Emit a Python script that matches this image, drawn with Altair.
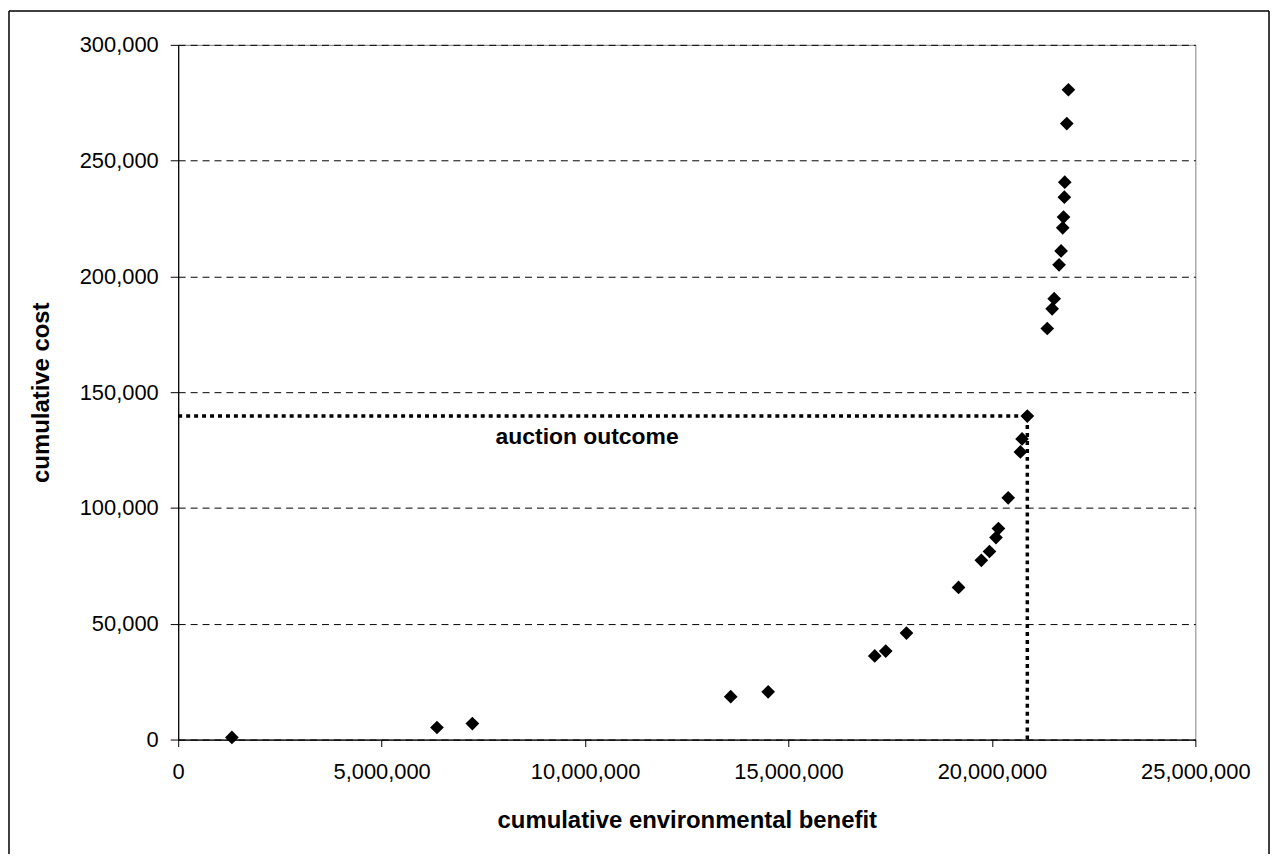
import altair as alt
import pandas as pd

# ---- data ----
benefit = [1320000, 6360000, 7230000, 13580000, 14500000, 17120000, 17390000,
           17900000, 19180000, 19740000, 19940000, 20100000, 20160000, 20400000,
           20700000, 20740000, 20870000, 21360000, 21480000, 21530000, 21650000,
           21700000, 21740000, 21760000, 21780000, 21790000, 21840000, 21880000]
cost = [900, 5200, 6900, 18500, 20600, 36100, 38200,
        46000, 65700, 77400, 81200, 87200, 91100, 104400,
        124200, 129800, 139700, 177500, 186000, 190400, 205000,
        211000, 221000, 225600, 234200, 240700, 266000, 280600]

x_ticks = [0, 5000000, 10000000, 15000000, 20000000, 25000000]
y_ticks = [0, 50000, 100000, 150000, 200000, 250000, 300000]

outcome_benefit = 20870000
outcome_cost = 139700
label_text = ["auction outcome"]
label_benefit = [10050000]
label_cost = [130600]

x_title = "cumulative environmental benefit"
y_title = "cumulative cost"

FONT = "Liberation Sans"
W, H = 1022, 698

xscale = alt.Scale(domain=[0, 25000000], nice=False)
yscale = alt.Scale(domain=[0, 300000], nice=False)

df = pd.DataFrame({"benefit": benefit, "cost": cost})

points = alt.Chart(df).mark_point(
    shape="diamond", filled=True, color="black", size=190, opacity=1
).encode(
    x=alt.X("benefit:Q", scale=xscale, axis=alt.Axis(
        title=x_title, values=x_ticks, format=",d", grid=False,
        tickSize=7, labelPadding=15, labelFlush=False,
        titleX=W / 2, titleY=81, titleBaseline="middle", titleAlign="center")),
    y=alt.Y("cost:Q", scale=yscale, axis=alt.Axis(
        title=y_title, values=y_ticks, format=",d", grid=True,
        gridDash=[7, 5], gridColor="black", gridWidth=1,
        tickSize=8, labelPadding=12, labelFlush=False,
        titleAngle=-90, titleX=-137, titleY=H / 2,
        titleBaseline="middle", titleAlign="center")),
)

hline = alt.Chart(pd.DataFrame({"benefit": [0], "benefit2": [outcome_benefit],
                                "cost": [outcome_cost]})).mark_rule(
    strokeDash=[4, 4], strokeWidth=3.5, color="black", strokeCap="butt"
).encode(x=alt.X("benefit:Q", scale=xscale), x2="benefit2:Q",
         y=alt.Y("cost:Q", scale=yscale))

vline = alt.Chart(pd.DataFrame({"benefit": [outcome_benefit], "cost": [0],
                                "cost2": [outcome_cost]})).mark_rule(
    strokeDash=[4, 4], strokeWidth=3.5, color="black", strokeCap="butt"
).encode(x=alt.X("benefit:Q", scale=xscale),
         y=alt.Y("cost:Q", scale=yscale), y2="cost2:Q")

label = alt.Chart(pd.DataFrame({"benefit": label_benefit, "cost": label_cost,
                                "label": label_text})).mark_text(
    font=FONT, fontSize=23, fontWeight="bold", color="black",
    align="center", baseline="middle"
).encode(x=alt.X("benefit:Q", scale=xscale), y=alt.Y("cost:Q", scale=yscale),
         text="label:N")

# outer chart frame (left, top, right edges; bottom edge lies beyond the picture)
frame_src = pd.DataFrame({"k": [0]})
frame_left = alt.Chart(frame_src).mark_rule(color="black", strokeWidth=1.5).encode(
    x=alt.value(-170), y=alt.value(-34), y2=alt.value(813))
frame_right = alt.Chart(frame_src).mark_rule(color="black", strokeWidth=1.5).encode(
    x=alt.value(1096), y=alt.value(-34), y2=alt.value(813))
frame_top = alt.Chart(frame_src).mark_rule(color="black", strokeWidth=1.5).encode(
    x=alt.value(-170), x2=alt.value(1096), y=alt.value(-34))

chart = alt.layer(vline, hline, label, points,
                  frame_left, frame_right, frame_top).properties(
    width=W, height=H,
    autosize=alt.AutoSizeParams(type="none"),
    padding={"left": 171, "top": 35, "right": 76, "bottom": 115},
    background="white",
).configure_view(
    stroke="#808080", strokeWidth=1
).configure_axis(
    labelFont=FONT, labelFontSize=22, labelColor="black",
    titleFont=FONT, titleFontSize=24, titleFontWeight="bold", titleColor="black",
    domainColor="black", domainWidth=1.2, tickColor="black", tickWidth=1,
)

chart.save("out.html", embed_options={"renderer": "svg", "actions": False})
